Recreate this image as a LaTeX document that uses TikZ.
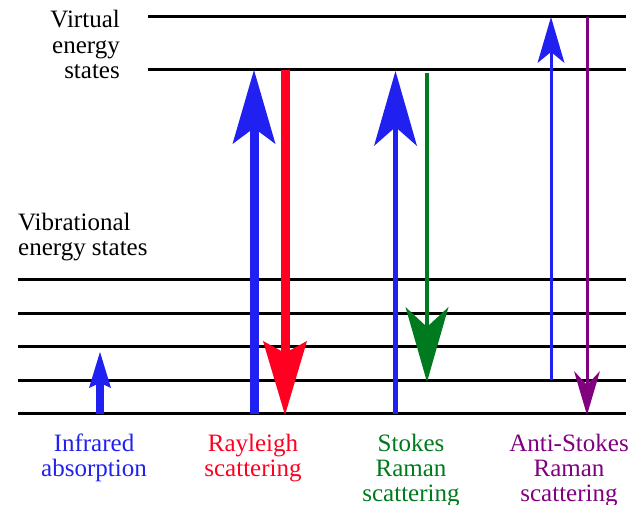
\documentclass[tikz,border=0pt]{standalone}
\usepackage{fontspec}
\setmainfont{Liberation Serif}
\usetikzlibrary{arrows.meta}
\definecolor{ablue}{RGB}{32,32,240}
\definecolor{ared}{RGB}{255,0,32}
\definecolor{agreen}{RGB}{0,122,30}
\definecolor{apurple}{RGB}{128,0,128}
\begin{document}
\begin{tikzpicture}[x=1pt,y=-1pt,
  level/.style={line width=3pt,draw=black},
  lbl/.style={font=\fontsize{25}{25.5}\selectfont,inner sep=0pt},
  tip/.style n args={3}{-{Stealth[length=#1pt,width=#2pt,inset=#3pt,line width=0pt]}},
  photon/.style={draw=#1}]
\useasboundingbox (0,0) rectangle (633,505);

% energy levels
\coordinate (virt2-l) at (148,17);  \coordinate (virt2-r) at (626,17);
\coordinate (virt1-l) at (148,70);  \coordinate (virt1-r) at (626,70);
\draw[level] (virt2-l) -- (virt2-r);
\draw[level] (virt1-l) -- (virt1-r);
\foreach \n/\y in {4/280,3/313.5,2/347,1/380.5,0/414}{
  \coordinate (vib\n-l) at (18,\y);
  \coordinate (vib\n-r) at (626,\y);
  \draw[level] (vib\n-l) -- (vib\n-r);
}

% level labels (base anchor sits on the last line)
\node[lbl,align=right,anchor=base east] (virtlbl) at (120,79) {Virtual\\energy\\states};
\node[lbl,align=left,anchor=base west] (viblbl) at (18,256) {Vibrational\\energy states};

% transition end points
\coordinate (ir-a) at (100,414);  \coordinate (ir-b) at (100,352);
\coordinate (ry-a) at (254,414);  \coordinate (ry-b) at (254,70);
\coordinate (rd-a) at (285,70);   \coordinate (rd-b) at (285,415);
\coordinate (su-a) at (395.5,414);\coordinate (su-b) at (395.5,71);
\coordinate (sd-a) at (427,73);   \coordinate (sd-b) at (427,382);
\coordinate (au-a) at (551,380.5);\coordinate (au-b) at (551,17);
\coordinate (ad-a) at (587,17);   \coordinate (ad-b) at (587,415);

% transitions
\draw[photon=ablue,line width=8pt,tip={36}{22}{5}] (ir-a) -- (ir-b);
\draw[photon=ablue,line width=9pt,tip={74}{43}{16}] (ry-a) -- (ry-b);
\draw[photon=ared,line width=9pt,tip={74}{44}{12}] (rd-a) -- (rd-b);
\draw[photon=ablue,line width=4.5pt,tip={75}{43}{19}] (su-a) -- (su-b);
\draw[photon=agreen,line width=4pt,tip={75}{43}{20}] (sd-a) -- (sd-b);
\draw[photon=ablue,line width=3pt,tip={46}{27}{11}] (au-a) -- (au-b);
\draw[photon=apurple,line width=3pt,tip={44}{26}{14}] (ad-a) -- (ad-b);

% process labels
\node[lbl,align=center,anchor=base,text=ablue] (irlbl) at (94,477) {Infrared\\absorption};
\node[lbl,align=center,anchor=base,text=ared] (rylbl) at (253,477) {Rayleigh\\scattering};
\node[lbl,align=center,anchor=base,text=agreen] (stlbl) at (411,502) {Stokes\\Raman\\scattering};
\node[lbl,align=center,anchor=base,text=apurple] (aslbl) at (569,502) {Anti-Stokes\\Raman\\scattering};
\end{tikzpicture}
\end{document}
